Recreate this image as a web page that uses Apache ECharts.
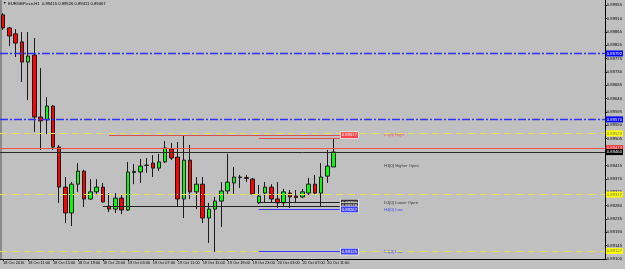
<!DOCTYPE html>
<html><head><meta charset="utf-8">
<script src="https://cdn.jsdelivr.net/npm/echarts@6/dist/echarts.min.js"></script>
<style>html,body{margin:0;padding:0;background:#c0c0c0}#c{width:625px;height:269px}</style>
</head><body><div id="c"></div><script>
// ---- data (EURGBP.ecn, H1) ----
const categories = [
 "18 Oct 07:00","18 Oct 08:00","18 Oct 09:00","18 Oct 10:00","18 Oct 11:00","18 Oct 12:00","18 Oct 13:00","18 Oct 14:00","18 Oct 15:00","18 Oct 16:00","18 Oct 17:00","18 Oct 18:00","18 Oct 19:00","18 Oct 20:00","18 Oct 21:00","18 Oct 22:00","18 Oct 23:00",
 "19 Oct 00:00","19 Oct 01:00","19 Oct 02:00","19 Oct 03:00","19 Oct 04:00","19 Oct 05:00","19 Oct 06:00","19 Oct 07:00","19 Oct 08:00","19 Oct 09:00","19 Oct 10:00","19 Oct 11:00","19 Oct 12:00","19 Oct 13:00","19 Oct 14:00","19 Oct 15:00","19 Oct 16:00","19 Oct 17:00","19 Oct 18:00","19 Oct 19:00","19 Oct 20:00","19 Oct 21:00","19 Oct 22:00","19 Oct 23:00",
 "20 Oct 00:00","20 Oct 01:00","20 Oct 02:00","20 Oct 03:00","20 Oct 04:00","20 Oct 05:00","20 Oct 06:00","20 Oct 07:00","20 Oct 08:00","20 Oct 09:00","20 Oct 10:00","20 Oct 11:00","20 Oct 12:00"
];
const firstTickLabel = "18 Oct 2016";
const opens  = [0.89922,0.89878,0.89858,0.89831,0.89763,0.89787,0.89578,0.89568,0.89615,0.89477,0.89342,0.89255,0.89352,0.89396,0.89302,0.89326,0.89342,0.89278,0.89268,0.89305,0.89265,0.89391,0.89393,0.89415,0.89423,0.89406,0.89427,0.89470,0.89443,0.89302,0.89433,0.89326,0.89352,0.89238,0.89268,0.89295,0.89329,0.89356,0.89374,0.89374,0.89369,0.89289,0.89322,0.89342,0.89302,0.89289,0.89322,0.89312,0.89309,0.89322,0.89352,0.89322,0.89379,0.89410];
const closes = [0.89878,0.89851,0.89827,0.89763,0.89783,0.89578,0.89565,0.89615,0.89477,0.89342,0.89255,0.89352,0.89396,0.89302,0.89326,0.89342,0.89292,0.89268,0.89305,0.89265,0.89393,0.89395,0.89413,0.89416,0.89406,0.89427,0.89474,0.89440,0.89302,0.89433,0.89326,0.89352,0.89238,0.89268,0.89295,0.89329,0.89359,0.89376,0.89376,0.89371,0.89319,0.89312,0.89342,0.89302,0.89289,0.89326,0.89309,0.89307,0.89326,0.89352,0.89322,0.89376,0.89413,0.89460];
const lows   = [0.89871,0.89817,0.89780,0.89696,0.89635,0.89528,0.89467,0.89521,0.89467,0.89289,0.89221,0.89211,0.89326,0.89275,0.89299,0.89315,0.89290,0.89258,0.89255,0.89251,0.89262,0.89352,0.89356,0.89390,0.89376,0.89396,0.89423,0.89433,0.89278,0.89238,0.89302,0.89268,0.89221,0.89154,0.89124,0.89208,0.89319,0.89319,0.89339,0.89359,0.89315,0.89285,0.89292,0.89292,0.89272,0.89275,0.89272,0.89292,0.89305,0.89315,0.89315,0.89278,0.89356,0.89410];
const highs  = [0.89928,0.89881,0.89874,0.89864,0.89864,0.89844,0.89743,0.89645,0.89618,0.89484,0.89376,0.89359,0.89423,0.89400,0.89369,0.89369,0.89356,0.89322,0.89322,0.89315,0.89427,0.89420,0.89437,0.89440,0.89450,0.89454,0.89497,0.89491,0.89494,0.89517,0.89484,0.89376,0.89376,0.89289,0.89309,0.89359,0.89454,0.89410,0.89383,0.89383,0.89373,0.89349,0.89359,0.89352,0.89359,0.89336,0.89332,0.89332,0.89336,0.89373,0.89383,0.89423,0.89467,0.89507];
const headerText = "EURGBP.ecn,H1  0.89415 0.89526 0.89411 0.89467";
// horizontal levels
const blueLevels   = [0.89792, 0.89570];
const yellowLevels = [0.89523, 0.89317, 0.89127];
const redLevel = 0.89473;
const bidLevel = 0.89460;
// level segments: [startBar, endBar, price]
const highSeg      = [17, 54, 0.89517];
const highSeg2     = [41, 54, 0.89506];
const openSeg      = [53, 54, 0.89413];
const lowerOpenSeg = [41, 54, 0.89290];
const lowerOpenSeg2= [16, 54, 0.89278];
const lowSeg       = [41, 54, 0.89267];
const dayLowSeg    = [41, 54, 0.89125];
// annotation texts
const annoBar = 61;
const annoTexts  = ["D1[0] High", "H1[0] Higher Open", "D1[0] Lower Open", "H4[0] Low", "D1[0] Low"];
const annoPrices = [0.89517, 0.89413, 0.89290, 0.89267, 0.89125];
const futureSlots = 43;
// ---- chart ----
const axisCats = categories.concat(Array.from({length: futureSlots}, (_, i) => 'f' + i));
const candleData = opens.map((o, i) => [o, closes[i], lows[i], highs[i]]);
const FF = 'Liberation Sans';
function boxLabel(bg, fg, border) {
  return {show: true, position: 'end', distance: 1, formatter: p => Number(p.value).toFixed(5),
    backgroundColor: bg, color: fg, fontSize: 4.2, fontFamily: FF, lineHeight: 5, padding: [0.5, 1],
    borderColor: border || bg, borderWidth: border ? 0.6 : 0};
}
function fullLine(v, color, dashed, bg, fg) {
  return {yAxis: v, lineStyle: {color: color, type: dashed ? [7, 2, 1, 2] : 'solid', width: 1, opacity: 1}, label: boxLabel(bg, fg)};
}
function seg(s, color, lbl, width) {
  return [{coord: [s[0], s[2]], value: s[2], lineStyle: {color: color, type: 'solid', width: width == null ? 1 : width, opacity: width === 0 ? 0 : 1},
           label: lbl || {show: false}},
          {coord: [s[1], s[2]]}];
}
const annoColors = ['#ff4040', '#101010', '#101010', '#2a2aff', '#2a2aff'];
const chart = echarts.init(document.getElementById('c'), null, {renderer: 'canvas'});
chart.setOption({
  animation: false,
  backgroundColor: '#c0c0c0',
  grid: {left: -1, right: 18, top: 0, bottom: 10, show: false},
  xAxis: {
    type: 'category', data: axisCats, boundaryGap: true,
    axisLine: {show: true, lineStyle: {color: '#000', width: 1}},
    axisTick: {show: true, alignWithLabel: true, length: 2, interval: (i) => i < categories.length && i % 4 === 0, lineStyle: {color: '#000'}},
    axisLabel: {interval: (i) => i < categories.length && i % 4 === 0, align: 'left', margin: 2,
      fontSize: 3.9, fontFamily: FF, color: '#000',
      formatter: (v, i) => i === 0 ? firstTickLabel : v},
    splitLine: {show: false}
  },
  yAxis: {
    type: 'value', position: 'right', min: 0.89100, max: 0.89972, interval: 0.00045,
    axisLine: {show: true, lineStyle: {color: '#000', width: 1}},
    axisTick: {show: true, length: 2, lineStyle: {color: '#000'}},
    axisLabel: {showMaxLabel: false, margin: 2, fontSize: 4.2, fontFamily: FF, color: '#000',
      formatter: v => v.toFixed(5)},
    splitLine: {show: false}
  },
  graphic: [
    {type: 'rect', left: 0, top: 0, shape: {width: 2, height: 259}, style: {fill: '#8a8a8a'}},
    {type: 'text', left: 3, top: 1.5, style: {text: '\u25BC', fontSize: 3.5, fill: '#000'}},
    {type: 'text', left: 8, top: 1.5, style: {text: headerText, fontSize: 4.2, fontFamily: FF, fill: '#000'}}
  ],
  series: [
    {
      type: 'candlestick', data: candleData, barWidth: 4,
      itemStyle: {color: '#00ff00', color0: '#ff0000', borderColor: '#1a1a1a', borderColor0: '#1a1a1a', borderWidth: 1},
      markLine: {
        silent: true, symbol: ['none', 'none'], precision: 5,
        data: [
          ...yellowLevels.map(v => fullLine(v, '#e2e25a', true, '#ffff00', '#707070')),
          fullLine(redLevel, '#ff5050', false, '#ff2020', '#ffffff'),
          fullLine(bidLevel, '#2a2a2a', false, '#000000', '#ffffff'),
          seg(highSeg, '#e05050', boxLabel('#ff4545', '#ffffff', '#ffffff')),
          seg(highSeg2, '#e05050'),
          seg(openSeg, '#303030', boxLabel('#404040', '#ffffff', '#ffffff'), 0),
          seg(lowerOpenSeg, '#202020', boxLabel('#303030', '#ffffff', '#ffffff')),
          seg(lowerOpenSeg2, '#202020', boxLabel('#303030', '#ffffff', '#ffffff')),
          seg(lowSeg, '#3a3aff', boxLabel('#4040ff', '#ffffff', '#ffffff')),
          seg(dayLowSeg, '#3a3aff', boxLabel('#4040ff', '#ffffff', '#ffffff'))
        ]
      }
    },
    {
      type: 'scatter', symbolSize: 1, silent: true,
      itemStyle: {color: 'rgba(0,0,0,0)'},
      data: annoTexts.map((t, i) => ({value: [annoBar, annoPrices[i]], name: t,
        label: {show: true, position: 'right', distance: 0, formatter: t, fontSize: 4.2, fontFamily: FF, color: annoColors[i]}})),
      markLine: {
        silent: true, symbol: ['none', 'none'], precision: 5,
        lineStyle: {color: '#2f2fff', type: [8, 2, 2, 2], width: 1.4, opacity: 1},
        data: blueLevels.map(v => ({yAxis: v, label: boxLabel('#0000ff', '#ffffff')}))
      }
    }
  ]
});
</script></body></html>
